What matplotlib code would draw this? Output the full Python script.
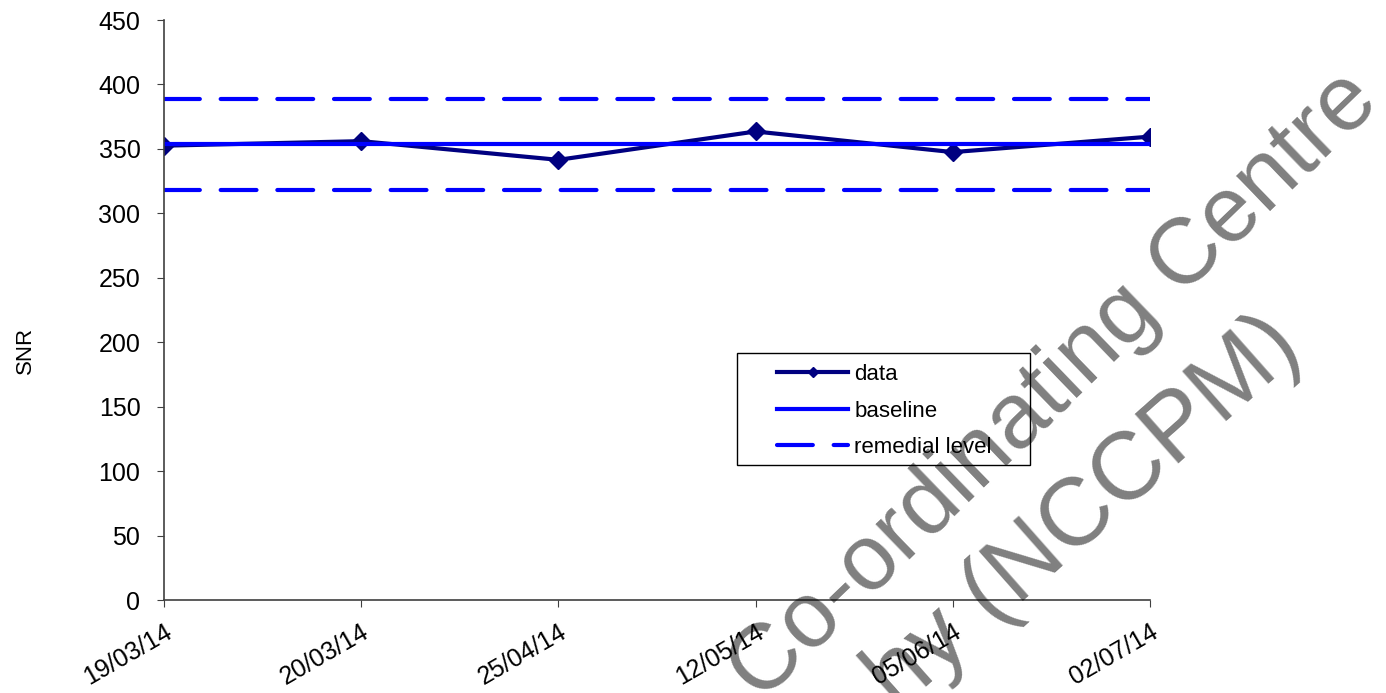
import matplotlib
matplotlib.use("Agg")
import matplotlib.pyplot as plt
from matplotlib.lines import Line2D
from matplotlib.patches import Rectangle
from matplotlib.transforms import IdentityTransform

plt.rcParams['font.family'] = ['Liberation Sans', 'DejaVu Sans']

# chart data
dates = ['19/03/14', '20/03/14', '25/04/14', '12/05/14', '05/06/14', '02/07/14']
snr = [352.5, 356.0, 341.5, 363.5, 347.5, 359.5]
baseline = 353.5
remedial_upper = 388.5
remedial_lower = 318.0

navy = '#000080'
blue = '#0000FF'
axis_grey = '#404040'

W, H = 1386, 693
fig = plt.figure(figsize=(W / 100, H / 100), dpi=100)
ax = fig.add_axes([164 / W, 1 - 600 / H, (1150 - 164) / W, (600 - 20) / H])

x = list(range(len(dates)))
ax.plot(x, snr, color=navy, lw=3, marker='D', ms=9, zorder=3)
ax.plot(x, [baseline] * len(x), color=blue, lw=3, solid_capstyle='round', zorder=4)
for level in (remedial_upper, remedial_lower):
    ax.plot(x, [level] * len(x), color=blue, lw=3, dashes=(8.6, 5.0),
            dash_capstyle='round', zorder=4)

ax.set_xlim(0, len(dates) - 1)
ax.set_ylim(0, 450)
ax.set_yticks(range(0, 451, 50))
ax.set_xticks(x)
ax.set_xticklabels(dates, rotation=30, ha='right', va='top', rotation_mode='anchor')
ax.tick_params(axis='y', labelsize=18, length=5, color=axis_grey, pad=12)
ax.tick_params(axis='x', labelsize=18, length=5, color=axis_grey, pad=9)
for side in ('top', 'right'):
    ax.spines[side].set_visible(False)
for side in ('left', 'bottom'):
    ax.spines[side].set_color(axis_grey)
    ax.spines[side].set_linewidth(1.2)
ax.spines['left'].set_zorder(5)
ax.set_ylabel('SNR', fontsize=16)
ax.yaxis.set_label_coords(-0.13, (600 - 350) / 580)

# legend with its own box
fig.patches.append(Rectangle((737 / W, 1 - 465 / H), (1030 - 737) / W, (465 - 353) / H,
                             transform=fig.transFigure, fill=False,
                             edgecolor='black', lw=1.0, zorder=6))
handles = [
    Line2D([], [], color=navy, lw=3, marker='D', ms=5),
    Line2D([], [], color=blue, lw=3),
    Line2D([], [], color=blue, lw=3, dashes=(8.6, 5.0), dash_capstyle='round'),
]
fig.legend(handles, ['data', 'baseline', 'remedial level'], loc='upper left',
           bbox_to_anchor=(777 / W, 1 - 364 / H), frameon=False, fontsize=16,
           handlelength=3.2, handletextpad=0.27, labelspacing=0.70,
           borderpad=0, borderaxespad=0)

# watermark
fig.text(1381, H - 104, 'Co-ordinating Centre', transform=IdentityTransform(),
         rotation=44, rotation_mode='anchor', ha='right', va='baseline',
         fontsize=67, color='black', alpha=0.5, zorder=10)
fig.text(1305, H - 352, 'hy (NCCPM)', transform=IdentityTransform(),
         rotation=41.5, rotation_mode='anchor', ha='right', va='baseline',
         fontsize=69, color='black', alpha=0.5, zorder=10)

fig.savefig('out.png', dpi=100)
